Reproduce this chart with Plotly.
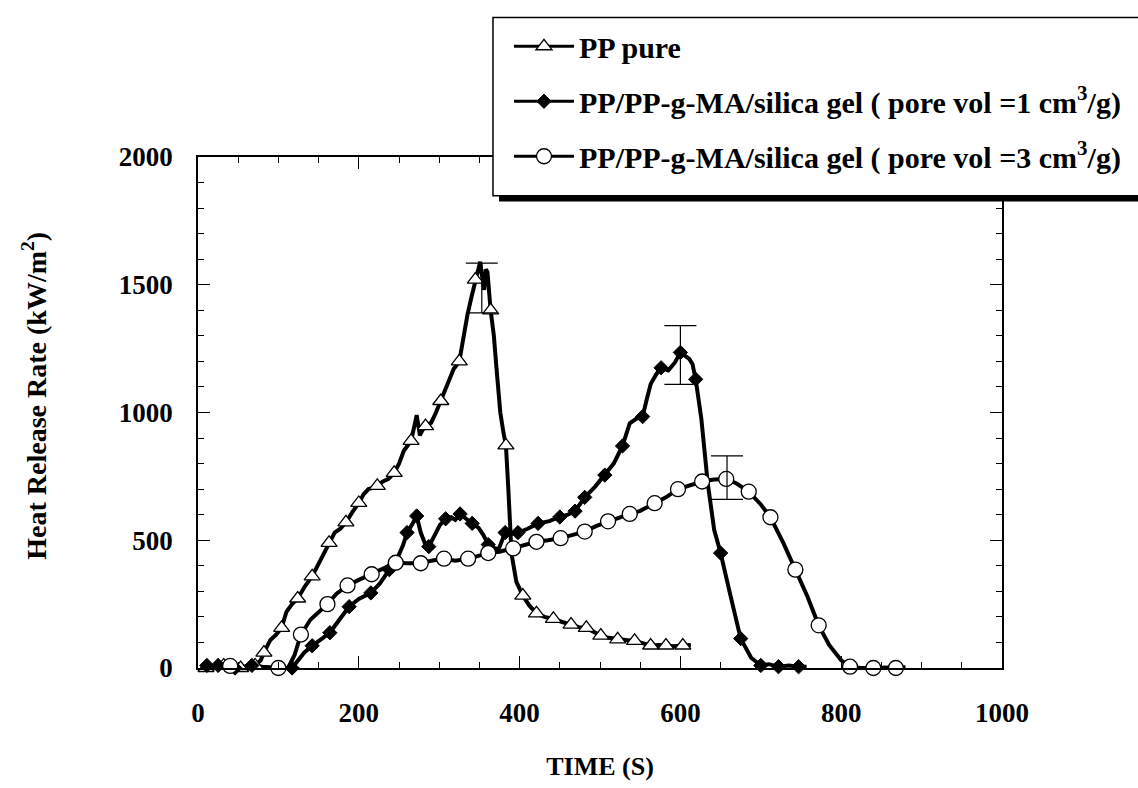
import plotly.graph_objects as go

# ---------------- data ----------------
# PP pure (line trace)
pp_t = [5, 10, 20, 32, 42, 53, 62, 71, 78, 82,
        90, 97, 104, 110, 117, 124, 133, 142, 150, 157,
        163, 170, 177, 184, 192, 200, 206, 212, 218, 223,
        230, 237, 244, 250, 256, 262, 265, 270, 272, 276,
        279, 283, 290, 296, 302, 308, 312, 318, 325, 330,
        335, 340, 345, 348, 351, 353, 356, 358, 360, 364,
        368, 371, 376, 380, 383, 386, 390, 396, 404, 412,
        421, 431, 442, 453, 464, 474, 483, 492, 501, 511,
        522, 532, 543, 553, 563, 573, 582, 592, 603, 613]
pp_v = [0, 0, 8, 10, 3, 0, 0, 10, 30, 60,
        110, 130, 157, 220, 250, 272, 320, 359, 410, 450,
        490, 530, 545, 570, 610, 646, 680, 700, 705, 713,
        730, 740, 764, 800, 850, 880, 889, 960, 990, 910,
        930, 947, 960, 1000, 1045, 1100, 1129, 1170, 1200, 1300,
        1380, 1450, 1520, 1550, 1590, 1540, 1480, 1560, 1550, 1400,
        1300, 1183, 1000, 920, 871, 700, 446, 337, 283, 245,
        214, 200, 192, 180, 170, 160, 157, 140, 127, 118,
        112, 110, 106, 95, 88, 90, 88, 85, 88, 90]
# PP pure (symbols)
pp_mt = [10, 32, 53, 71, 82, 104, 124, 142, 163, 184, 200, 223, 244, 265, 283, 302,
         325, 345, 364, 383, 404, 421, 442, 464, 483, 501, 522, 543, 563, 582, 603]
pp_mv = [0, 10, 0, 10, 60, 157, 272, 359, 490, 570, 646, 713, 764, 889, 947, 1045,
         1200, 1520, 1400, 871, 283, 214, 192, 170, 157, 127, 112, 106, 88, 88, 88]

# PP/PP-g-MA/silica gel, pore vol = 1 cm3/g (line trace)
s1_t = [5, 11, 18, 25, 35, 46, 56, 67, 80, 95,
        105, 117, 125, 132, 142, 152, 164, 176, 188, 200,
        215, 226, 238, 248, 255, 260, 266, 272, 277, 282,
        287, 295, 301, 308, 315, 320, 326, 333, 341, 349,
        355, 361, 368, 374, 382, 390, 398, 410, 423, 437,
        450, 460, 469, 475, 481, 494, 506, 517, 528, 533,
        537, 545, 553, 558, 563, 570, 576, 585, 593, 600,
        606, 611, 615, 619, 626, 634, 642, 650, 662, 675,
        688, 700, 710, 722, 735, 747, 757]
s1_v = [0, 10, 5, 10, 5, 0, 5, 10, 5, 0,
        0, 0, 30, 60, 87, 110, 138, 190, 240, 270,
        294, 330, 385, 430, 480, 530, 560, 595, 530, 490,
        475, 520, 560, 584, 590, 580, 603, 585, 566, 548,
        520, 483, 470, 465, 530, 525, 530, 545, 566, 575,
        591, 600, 614, 640, 668, 710, 755, 800, 869, 920,
        958, 975, 984, 1050, 1111, 1150, 1175, 1165, 1195, 1235,
        1220, 1210, 1190, 1130, 977, 723, 541, 450, 287, 115,
        40, 10, 15, 5, 10, 5, 5]
s1_mt = [11, 25, 46, 67, 117, 142, 164, 188, 215, 238, 260, 272, 287, 308, 326, 341,
         361, 382, 398, 423, 450, 469, 481, 506, 528, 553, 576, 600, 619, 650, 675,
         700, 722, 747]
s1_mv = [10, 10, 0, 10, 0, 87, 138, 240, 294, 385, 530, 595, 475, 584, 603, 566,
         483, 530, 530, 566, 591, 614, 668, 755, 869, 984, 1175, 1235, 1130, 450, 115,
         10, 5, 5]

# PP/PP-g-MA/silica gel, pore vol = 3 cm3/g (line trace)
s3_t = [20, 40, 60, 80, 100, 112, 120, 128, 140, 150,
        161, 172, 186, 200, 216, 230, 246, 260, 277, 290,
        306, 320, 336, 350, 361, 375, 392, 405, 421, 435,
        451, 465, 481, 495, 510, 525, 537, 550, 568, 582,
        597, 612, 627, 642, 657, 670, 685, 700, 712, 728,
        743, 758, 772, 785, 800, 811, 825, 840, 855, 868,
        880]
s3_v = [5, 8, 0, 0, 0, 0, 50, 131, 190, 220,
        250, 290, 323, 345, 367, 390, 412, 410, 410, 420,
        428, 420, 428, 440, 450, 455, 468, 480, 494, 500,
        508, 520, 534, 555, 574, 590, 603, 615, 645, 668,
        700, 715, 730, 738, 740, 722, 690, 640, 590, 490,
        385, 280, 167, 90, 30, 5, 0, 0, 0, 0,
        3]
s3_mt = [40, 100, 128, 161, 186, 216, 246, 277, 306, 336, 361, 392, 421, 451, 481,
         510, 537, 568, 597, 627, 657, 685, 712, 743, 772, 811, 840, 868]
s3_mv = [8, 0, 131, 250, 323, 367, 412, 410, 428, 428, 450, 468, 494, 508, 534,
         574, 603, 645, 700, 730, 740, 690, 590, 385, 167, 5, 0, 0]

# error bars at the peaks
err_t = [353, 600, 658]
err_v = [1490, 1235, 740]
err_up = [95, 105, 90]
err_dn = [100, 125, 80]

names = ["PP pure",
         "PP/PP-g-MA/silica gel ( pore vol =1 cm<sup>3</sup>/g)",
         "PP/PP-g-MA/silica gel ( pore vol =3 cm<sup>3</sup>/g)"]

# ---------------- figure ----------------
FONT = "Liberation Serif"
LW = 4
fig = go.Figure()

series = [
    (pp_t, pp_v, pp_mt, pp_mv, dict(symbol="triangle-up", size=14, color="white",
                                    line=dict(color="black", width=1.3))),
    (s1_t, s1_v, s1_mt, s1_mv, dict(symbol="diamond", size=11, color="black",
                                    line=dict(color="black", width=1))),
    (s3_t, s3_v, s3_mt, s3_mv, dict(symbol="circle", size=15, color="white",
                                    line=dict(color="black", width=1.3))),
]

for (t, v, mt, mv, mk) in series:
    fig.add_trace(go.Scatter(x=t, y=v, mode="lines", showlegend=False,
                             line=dict(color="black", width=LW), cliponaxis=False,
                             hoverinfo="skip"))
for (t, v, mt, mv, mk) in series:
    fig.add_trace(go.Scatter(x=mt, y=mv, mode="markers", showlegend=False,
                             marker=mk, cliponaxis=False))

fig.add_trace(go.Scatter(x=err_t, y=err_v, mode="markers", showlegend=False,
                         marker=dict(color="rgba(0,0,0,0)", size=2),
                         error_y=dict(type="data", symmetric=False, array=err_up,
                                      arrayminus=err_dn, color="black",
                                      thickness=1.2, width=16)))

# legend entries
for i, (name, (t, v, mt, mv, mk)) in enumerate(zip(names, series)):
    fig.add_trace(go.Scatter(x=[None], y=[None], mode="lines+markers", name=name,
                             legendgroup="g%d" % i, marker=mk,
                             line=dict(color="black", width=3)))

# legend box with drop shadow
fig.add_shape(type="rect", xref="paper", yref="paper",
              x0=0.3744, x1=1.2, y0=0.9127, y1=1.2619,
              fillcolor="black", line=dict(width=0), layer="above")
fig.add_shape(type="rect", xref="paper", yref="paper",
              x0=0.3669, x1=1.19, y0=0.9241, y1=1.2732,
              fillcolor="white", line=dict(color="black", width=1.5), layer="above")

# y-axis title
fig.add_annotation(text="Heat Release Rate (kW/m<sup>2</sup>)", xref="paper", yref="paper",
                   x=-0.2027, y=0.533, textangle=-90, showarrow=False,
                   xanchor="center", yanchor="middle",
                   font=dict(family=FONT, size=28, color="black", weight="bold"))

tickfont = dict(family=FONT, size=27, color="black", weight="bold")
fig.update_layout(
    width=1138, height=788,
    margin=dict(l=198, r=136, t=157, b=104),
    paper_bgcolor="white", plot_bgcolor="white",
    font=dict(family=FONT, color="black"),
    showlegend=True,
    legend=dict(x=0.3868, y=1.2676, xanchor="left", yanchor="top",
                bgcolor="rgba(0,0,0,0)", borderwidth=0,
                font=dict(family=FONT, size=30, color="black", weight="bold"),
                tracegroupgap=13, itemwidth=60),
    xaxis=dict(range=[0, 1000], tickvals=[0, 200, 400, 600, 800, 1000],
               ticks="inside", ticklen=12, tickwidth=1.3, tickcolor="black",
               minor=dict(dtick=50, ticks="inside", ticklen=6, tickcolor="black"),
               showline=True, linecolor="black", linewidth=1.5, mirror="ticks",
               showgrid=False, zeroline=False, tickfont=tickfont,
               ticklabelstandoff=20,
               title=dict(text="TIME (S)", font=dict(family=FONT, size=26, weight="bold"),
                          standoff=30)),
    yaxis=dict(range=[0, 2000], tickvals=[0, 500, 1000, 1500, 2000],
               ticks="inside", ticklen=12, tickwidth=1.3, tickcolor="black",
               minor=dict(dtick=100, ticks="inside", ticklen=6, tickcolor="black"),
               showline=True, linecolor="black", linewidth=1.5, mirror="ticks",
               showgrid=False, zeroline=False, tickfont=tickfont,
               ticklabelstandoff=18),
)

fig.write_html("out.html")
